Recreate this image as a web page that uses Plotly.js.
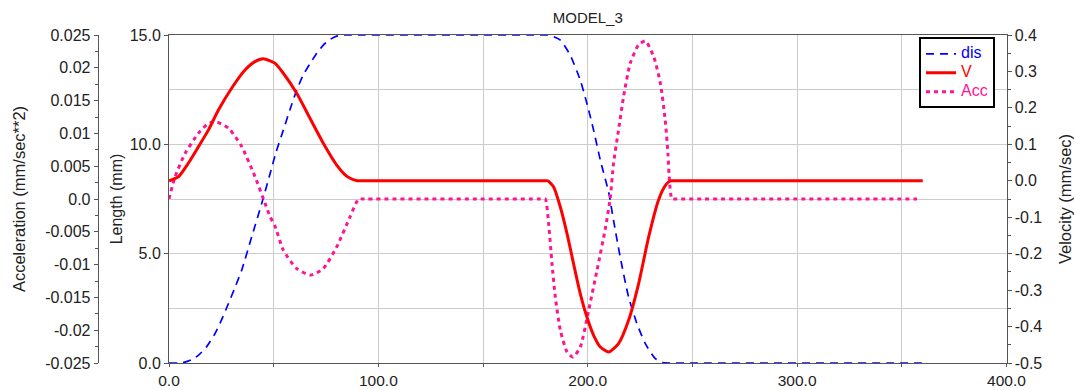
<!DOCTYPE html>
<html>
<head>
<meta charset="utf-8">
<script src="https://cdn.plot.ly/plotly-3.0.1.min.js"></script>
<style>html,body{margin:0;padding:0;background:#fff}#chart{width:1074px;height:390px}</style>
</head>
<body>
<div id="chart"></div>
<script>
// ---- data ----
var chartTitle = "MODEL_3";
var seriesNames = ["dis", "V", "Acc"];

// displacement (Length, mm)
var disX = [0, 5, 8, 11, 14, 18, 22, 25, 28.4, 31.5, 34.7, 39.5, 44.3, 48.3, 51, 54.6, 58, 61, 64, 67.4, 70.5, 73.7, 77, 80.1, 84, 87, 90,
            178, 180, 183, 186.9, 191.6, 196.4, 199.6, 202.8, 206, 210, 212.3, 215.5, 219.5, 223.5, 227.5, 232.3, 236, 240, 242, 358, 360];
var disY = [0, 0.0, 0.05, 0.16, 0.35, 0.75, 1.35, 1.95, 2.72, 3.45, 4.24, 5.77, 7.30, 8.67, 9.6, 10.65, 11.65, 12.48, 13.15, 13.70, 14.15, 14.54, 14.8, 14.95, 15.0, 15.0, 15.0,
            15.0, 15.0, 14.95, 14.77, 14.08, 12.94, 11.87, 10.65, 9.28, 7.8, 6.53, 4.85, 3.02, 1.80, 0.89, 0.20, 0.02, 0, 0, 0, 0];

// velocity (mm/sec)
var velX = [0, 4.5, 9.2, 14.0, 18.8, 23.6, 29.9, 36.3, 41, 45, 48.3, 50.7, 54.6, 61.0, 67.4, 73.7, 80.1, 84, 86.5, 90, 92,
            179, 181, 183.7, 186.9, 190.1, 193.2, 196.4, 199.6, 202.8, 206.0, 210.0, 214.7, 219.5, 224.3, 229.1, 233.8, 236.5, 238.6, 240.2, 242, 358, 360];
var velY = [0.0, 0.011, 0.048, 0.093, 0.139, 0.194, 0.254, 0.304, 0.327, 0.335, 0.329, 0.322, 0.295, 0.240, 0.171, 0.103, 0.043, 0.017, 0.007, 0.0, 0.0,
            0.0, 0.0, -0.017, -0.072, -0.145, -0.227, -0.309, -0.374, -0.424, -0.456, -0.470, -0.447, -0.383, -0.282, -0.154, -0.053, -0.018, -0.003, 0.0, 0.0, 0.0, 0.0];

// acceleration (mm/sec**2)
var accX = [0, 2.9, 7.6, 14.0, 18, 22.0, 28.4, 34.7, 41.1, 45.9, 48.3, 50.7, 54.6, 61.0, 67.7, 73.7, 80.1, 86.5, 90.5, 92.5,
            178, 179.7, 181.3, 182.9, 184.5, 186.9, 190.1, 192.9, 196.4, 200.4, 204.4, 208.4, 210.8, 212.3, 214.7, 217.1, 220.3, 224.3, 227.5, 231.5, 234.7, 237.0, 238.3, 238.9, 240.2, 242, 356, 358];
var accY = [0.0, 0.0034, 0.0069, 0.0100, 0.0113, 0.0118, 0.0108, 0.0080, 0.0034, -0.0007, -0.0027, -0.0042, -0.0078, -0.0106, -0.0116, -0.0106, -0.0073, -0.0027, 0.0, 0.0,
            0.0, 0.0, -0.0037, -0.0098, -0.0149, -0.0200, -0.0233, -0.0241, -0.0226, -0.0170, -0.0109, -0.0045, 0.0003, 0.0054, 0.0105, 0.0156, 0.0207, 0.0235, 0.0241, 0.0217, 0.0176, 0.0120, 0.0069, 0.0034, 0.0, 0.0, 0.0, 0.0];

// tick labels
var xTickVals = [0, 100, 200, 300, 400];
var xTickText = ["0.0", "100.0", "200.0", "300.0", "400.0"];
var lenTickVals = [0, 5, 10, 15];
var lenTickText = ["0.0", "5.0", "10.0", "15.0"];
var velTickVals = [-0.5, -0.4, -0.3, -0.2, -0.1, 0, 0.1, 0.2, 0.3, 0.4];
var velTickText = ["-0.5", "-0.4", "-0.3", "-0.2", "-0.1", "0.0", "0.1", "0.2", "0.3", "0.4"];
var accTickVals = [-0.025, -0.02, -0.015, -0.01, -0.005, 0, 0.005, 0.01, 0.015, 0.02, 0.025];
var accTickText = ["-0.025", "-0.02", "-0.015", "-0.01", "-0.005", "0.0", "0.005", "0.01", "0.015", "0.02", "0.025"];

var axisTitles = {acc: "Acceleration (mm/sec**2)", len: "Length (mm)", vel: "Velocity (mm/sec)"};

// ---- styling ----
var FONT = "Liberation Sans, Arial, sans-serif";
var TXT = "#222";
var AXC = "#555";
var GRID = "#cccccc";
var TICKSZ = 16;
var colors = {dis: "#0000ff", V: "#ff0000", Acc: "#ff1493"};

function legendName(i, c) {
  return '<span style="color:' + c + ';font-size:16px">' + seriesNames[i] + '</span>';
}

var traces = [
  {x: disX, y: disY, name: legendName(0, colors.dis), type: 'scatter', mode: 'lines',
   yaxis: 'y', line: {color: colors.dis, width: 1.7, dash: '8px,6px', shape: 'spline', smoothing: 0.6}},
  {x: velX, y: velY, name: legendName(1, colors.V), type: 'scatter', mode: 'lines',
   yaxis: 'y3', line: {color: colors.V, width: 3, shape: 'spline', smoothing: 0.6}},
  {x: accX, y: accY, name: legendName(2, colors.Acc), type: 'scatter', mode: 'lines',
   yaxis: 'y2', line: {color: colors.Acc, width: 3, dash: '4px,4px', shape: 'spline', smoothing: 0.6}}
];

var xL = 169 / 1074, xR = 1006.5 / 1074;

var layout = {
  width: 1074, height: 390,
  margin: {l: 0, r: 0, t: 35, b: 27, pad: 0},
  paper_bgcolor: '#ffffff', plot_bgcolor: '#ffffff',
  font: {family: FONT, size: TICKSZ, color: TXT},
  title: {text: chartTitle, font: {family: FONT, size: 15, color: TXT}, x: (xL + xR) / 2, xanchor: 'center', y: 0.955, yanchor: 'middle'},
  showlegend: true,
  legend: {x: 919 / 1074, y: 0.993, xanchor: 'left', yanchor: 'top', bgcolor: '#ffffff',
           bordercolor: '#000000', borderwidth: 2, font: {family: FONT, size: 12, color: TXT},
           tracegroupgap: 0, itemwidth: 30},
  xaxis: {domain: [xL, xR], range: [0, 400], tickmode: 'array', tickvals: xTickVals, ticktext: xTickText,
          showline: true, linecolor: AXC, linewidth: 1, mirror: true, ticks: 'outside', ticklen: 3, tickcolor: AXC,
          showgrid: true, gridcolor: GRID, gridwidth: 1, zeroline: false,
          minor: {tickmode: 'linear', tick0: 0, dtick: 50, showgrid: true, gridcolor: GRID, ticks: 'outside', ticklen: 3, tickcolor: AXC},
          tickfont: {family: FONT, size: 15.5, color: TXT}},
  yaxis: {range: [0, 15], tickmode: 'array', tickvals: lenTickVals, ticktext: lenTickText,
          showline: true, linecolor: AXC, linewidth: 1, ticks: 'outside', ticklen: 4, tickcolor: AXC,
          showgrid: true, gridcolor: GRID, gridwidth: 1, zeroline: false,
          minor: {tickmode: 'linear', tick0: 0, dtick: 2.5, showgrid: true, gridcolor: GRID, ticks: ''},
          tickfont: {family: FONT, size: TICKSZ, color: TXT},
          title: {text: axisTitles.len, font: {family: FONT, size: 16, color: TXT}, standoff: 3}},
  yaxis2: {range: [-0.025, 0.025], overlaying: 'y', anchor: 'free', position: 97.7 / 1074, side: 'left',
           tickmode: 'array', tickvals: accTickVals, ticktext: accTickText,
           showline: true, linecolor: AXC, linewidth: 1, ticks: 'outside', ticklen: 4, tickcolor: AXC,
           showgrid: false, zeroline: false,
           minor: {tickmode: 'linear', tick0: 0, dtick: 0.0025, ticks: 'outside', ticklen: 3, tickcolor: AXC, showgrid: false},
           tickfont: {family: FONT, size: TICKSZ, color: TXT},
           title: {text: axisTitles.acc, font: {family: FONT, size: 16.5, color: TXT}, standoff: 14}},
  yaxis3: {range: [-0.5, 0.4], overlaying: 'y', anchor: 'x', side: 'right',
           tickmode: 'array', tickvals: velTickVals, ticktext: velTickText,
           showline: true, linecolor: AXC, linewidth: 1, ticks: 'outside', ticklen: 4, tickcolor: AXC,
           showgrid: false, zeroline: false,
           minor: {tickmode: 'linear', tick0: 0, dtick: 0.05, ticks: 'outside', ticklen: 3, tickcolor: AXC, showgrid: false},
           tickfont: {family: FONT, size: TICKSZ, color: TXT},
           title: {text: axisTitles.vel, font: {family: FONT, size: 16.5, color: TXT}, standoff: 18}}
};

Plotly.newPlot('chart', traces, layout, {displayModeBar: false, staticPlot: true});
</script>
</body>
</html>
